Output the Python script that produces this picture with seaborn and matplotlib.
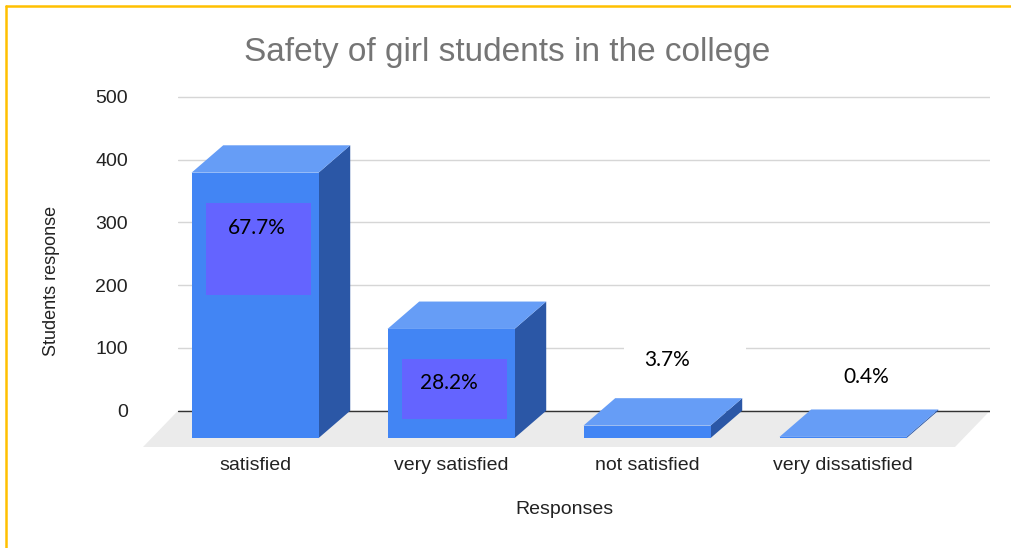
import matplotlib
matplotlib.use("Agg")
import matplotlib.pyplot as plt
from matplotlib.patches import Polygon, Rectangle
from matplotlib.lines import Line2D
import seaborn as sns

# data
categories = ["satisfied", "very satisfied", "not satisfied", "very dissatisfied"]
responses = [423, 174, 20, 2]
pct_labels = ["67.7%", "28.2%", "3.7%", "0.4%"]

# colours (google 3d bar look)
front_col = "#4285F4"
top_col = "#669DF6"
side_col = "#2B57A6"
box_col = "#6464FF"

sns.set_style("white")
plt.rcParams["font.family"] = ["Liberation Sans", "DejaVu Sans"]

fig = plt.figure(figsize=(10.12, 5.48), dpi=100)
W, H = 1012, 548
# axes placed in pixel units of the reference
ax_l, ax_r, ax_t, ax_b = 178, 990, 90.7, 447
ax = fig.add_axes([ax_l / W, 1 - ax_b / H, (ax_r - ax_l) / W, (ax_b - ax_t) / H])

xlim = (-0.393, 3.75)
ylim = (-57.8, 510)
px_x = (ax_r - ax_l) / (xlim[1] - xlim[0])   # pixels per x unit
px_y = (ax_b - ax_t) / (ylim[1] - ylim[0])   # pixels per y unit

# depth of the 3d effect
ddx = 31.7 / px_x
ddy = 27.4 / px_y

sns.barplot(x=categories, y=responses, color=front_col, saturation=1,
            width=0.648, errorbar=None, ax=ax, zorder=3, linewidth=0)
bars = list(ax.patches)

ax.set_xlim(*xlim)
ax.set_ylim(*ylim)
ax.set_yticks(range(0, 501, 100))
ax.yaxis.grid(True, color="#D6D6D6", lw=1)
ax.set_axisbelow(True)
sns.despine(ax=ax, left=True, bottom=True)

# floor
floor_shift = 35 / px_x
ax.add_patch(Polygon([(xlim[0] - floor_shift, ylim[0]), (xlim[0], 0), (xlim[1], 0),
                      (xlim[1] - floor_shift, ylim[0])], closed=True,
                     facecolor="#EBEBEB", edgecolor="none", zorder=0.7, clip_on=False))
ax.axhline(0, color="#333333", lw=1, zorder=0.8)

# turn the flat bars into boxes
for p in bars:
    p.set_y(-ddy)
    x0 = p.get_x()
    x1 = x0 + p.get_width()
    top = p.get_y() + p.get_height()
    bot = p.get_y()
    ax.add_patch(Polygon([(x1, bot), (x1 + ddx, bot + ddy), (x1 + ddx, top + ddy), (x1, top)],
                         closed=True, facecolor=side_col, edgecolor="none", zorder=2.5))
    ax.add_patch(Polygon([(x0, top), (x0 + ddx, top + ddy), (x1 + ddx, top + ddy), (x1, top)],
                         closed=True, facecolor=top_col, edgecolor="none", zorder=2.5))

# percentage labels pasted on the chart
box_heights = [92, 60, None, None]
text_offsets = [(2, 55), (-2, 54), (20, -66), (23, -60)]
for bar, lab, bh, (ox, oy) in zip(bars, pct_labels, box_heights, text_offsets):
    cx = bar.get_x() + bar.get_width() / 2
    ftop = bar.get_y() + bar.get_height()
    if bh is not None:
        bx0 = bar.get_x() + 14 / px_x
        bx1 = bar.get_x() + bar.get_width() - 8 / px_x
        by1 = ftop - 30 / px_y
        ax.add_patch(Rectangle((bx0, by1 - bh / px_y), bx1 - bx0, bh / px_y,
                               facecolor=box_col, edgecolor="none", zorder=4))
    else:
        # white text box hides the gridline behind it
        ax.add_patch(Rectangle((cx + (ox - 43) / px_x, ftop - oy / px_y - 18 / px_y),
                               122 / px_x, 36 / px_y, facecolor="white",
                               edgecolor="none", zorder=1))
    ax.text(cx + ox / px_x, ftop - oy / px_y, lab, ha="center", va="center",
            fontsize=15, color="black", family=["Lato", "DejaVu Sans"], zorder=5)

ax.tick_params(axis="y", length=0, pad=36, labelsize=14, labelcolor="#222222")
ax.tick_params(axis="x", length=0, pad=7, labelsize=14, labelcolor="#222222")

ax.set_xlabel("Responses", fontsize=14, color="#222222")
ax.xaxis.set_label_coords((564 - ax_l) / (ax_r - ax_l), -(501 - ax_b) / (ax_b - ax_t))
ax.set_ylabel("Students response", fontsize=13, color="#222222")
ax.yaxis.set_label_coords((60 - ax_l) / (ax_r - ax_l), (ax_b - 281) / (ax_b - ax_t))

fig.text(507 / W, 1 - 52 / H, "Safety of girl students in the college", ha="center",
         va="center", fontsize=24, color="#757575")

# orange frame on the top and left
fig.add_artist(Line2D([6 / W, 1], [1 - 6 / H, 1 - 6 / H], color="#FFC000", lw=1.8,
                      transform=fig.transFigure))
fig.add_artist(Line2D([6 / W, 6 / W], [0, 1 - 6 / H], color="#FFC000", lw=1.8,
                      transform=fig.transFigure))

fig.savefig("out.png", dpi=100)
